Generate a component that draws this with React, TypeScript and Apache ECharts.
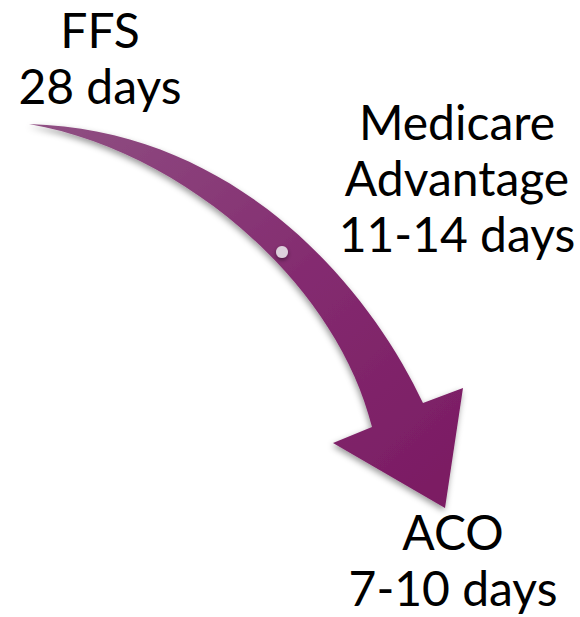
import React, { useEffect, useRef } from "react";
import * as echarts from "echarts";

// Text content of the infographic
const stages: string[] = ["FFS", "Medicare\nAdvantage", "ACO"];
const durations: string[] = ["28 days", "11-14 days", "7-10 days"];

// Layout (decoration, not data): centre x and centre y of first line
const labelPos: [number, number][] = [
  [100, 29],
  [457, 121],
  [453, 531],
];
const LINE = 56;

// Curved arrow outline: [start, control1, control2, end] for each edge
const upperEdge: [number, number][] = [[29, 124], [240, 130], [370, 290], [423, 403]];
const lowerEdge: [number, number][] = [[29, 124], [180, 150], [335, 280], [372, 427]];
const head: [number, number][] = [[463, 388], [445, 508], [333, 443]];

function arrowPath(): string {
  const u = upperEdge;
  const l = lowerEdge;
  let d = `M${u[0][0]} ${u[0][1]} C${u[1][0]} ${u[1][1]} ${u[2][0]} ${u[2][1]} ${u[3][0]} ${u[3][1]}`;
  head.forEach((p) => (d += ` L${p[0]} ${p[1]}`));
  d += ` L${l[3][0]} ${l[3][1]} C${l[2][0]} ${l[2][1]} ${l[1][0]} ${l[1][1]} ${l[0][0]} ${l[0][1]} Z`;
  return d;
}

let registered = false;

export default function App() {
  const ref = useRef<HTMLDivElement>(null);
  useEffect(() => {
    if (!ref.current) return;
    if (!registered) {
      echarts.graphic.registerShape("curvedArrow", echarts.graphic.extendPath(arrowPath(), {}) as any);
      registered = true;
    }
    const chart = echarts.init(ref.current, undefined, { renderer: "svg" });
    const texts: any[] = [];
    stages.forEach((s, i) => {
      const lines = [...s.split("\n"), durations[i]];
      lines.forEach((ln, j) => {
        texts.push({
          type: "text",
          x: labelPos[i][0],
          y: labelPos[i][1] + j * LINE,
          style: {
            text: ln,
            fill: "#000000",
            font: '48px "Lato", sans-serif',
            lineHeight: 44,
            align: "center",
            verticalAlign: "middle",
          },
        });
      });
    });
    chart.setOption({
      animation: false,
      backgroundColor: "#ffffff",
      graphic: [
        {
          type: "curvedArrow",
          x: 0,
          y: 0,
          style: {
            fill: new echarts.graphic.LinearGradient(0, 0, 1, 1, [
              { offset: 0, color: "#8f5083" },
              { offset: 0.5, color: "#842c70" },
              { offset: 1, color: "#7a1a62" },
            ]),
            shadowBlur: 6,
            shadowColor: "rgba(0,0,0,0.4)",
            shadowOffsetX: -1,
            shadowOffsetY: 3,
          },
        },
        {
          type: "circle",
          shape: { cx: 282, cy: 252, r: 6 },
          style: {
            fill: "#ddd0dc",
            shadowBlur: 4,
            shadowColor: "rgba(0,0,0,0.45)",
            shadowOffsetX: 0,
            shadowOffsetY: 2,
          },
        },
        ...texts,
      ],
    });
    return () => chart.dispose();
  }, []);
  return (
    <div
      ref={ref}
      style={{ position: "fixed", left: 0, top: 0, width: 580, height: 617, background: "#ffffff" }}
    />
  );
}
